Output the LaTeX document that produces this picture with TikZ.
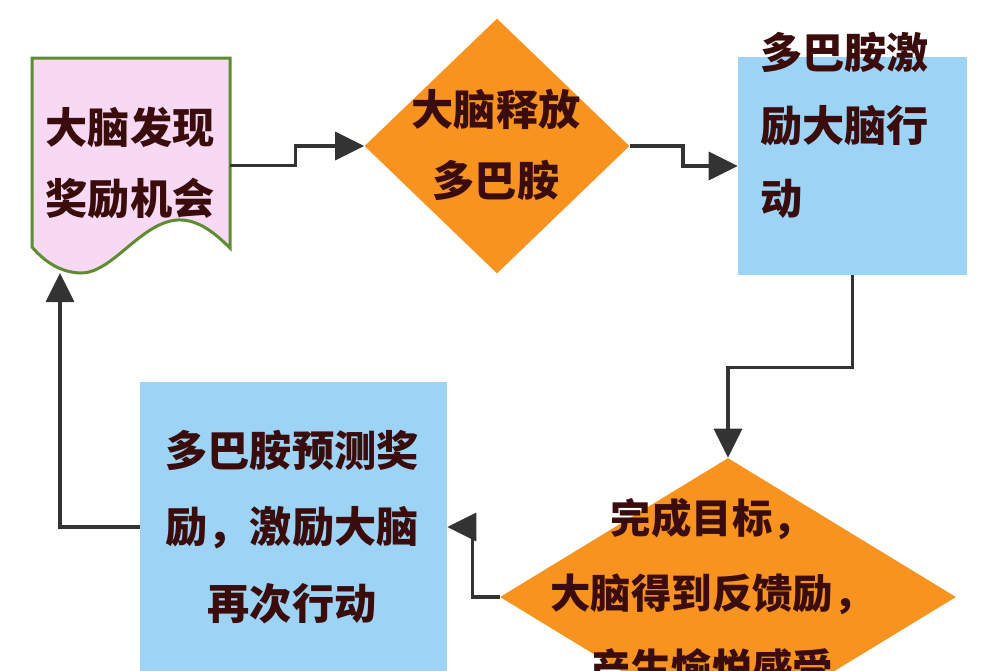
\documentclass[tikz,border=0pt]{standalone}
\usepackage{fontspec}
\newfontfamily\cjk{Noto Sans CJK SC}
\usetikzlibrary{shapes.geometric,arrows.meta}
\definecolor{flowtext}{HTML}{3A0C0C}
\definecolor{floworange}{HTML}{F7931E}
\definecolor{flowblue}{HTML}{9DD3F4}
\definecolor{flowpink}{HTML}{F8D9F3}
\definecolor{flowgreen}{HTML}{5E8C31}
\definecolor{flowline}{HTML}{333333}
\begin{document}
\begin{tikzpicture}[x=0.2mm,y=-0.2mm,
    lbl/.style={font=\cjk\bfseries\fontsize{24}{40}\selectfont,text=flowtext,inner sep=0pt},
    decide/.style={diamond,fill=floworange,inner sep=0pt},
    actbox/.style={rectangle,fill=flowblue,inner sep=0pt},
    arr/.style={draw=flowline,line width=0.7mm,-{Triangle[length=5.8mm,width=5.6mm]}}]
    \clip (0,0) rectangle (1000,670);
    \fill[white] (0,0) rectangle (1000,670);
    \draw[fill=flowpink,draw=flowgreen,line width=0.6mm] (32,58) -- (230,58) -- (230,248) .. controls (212,230) and (196,219) .. (177,220) .. controls (140,223) and (112,274) .. (80,273) .. controls (60,272) and (45,262) .. (32,247) -- cycle;
    \node[minimum width=39.6mm,minimum height=43mm,inner sep=0pt] (doc) at (131,165.5) {};
    \coordinate (docfoot) at (60,273);
    \node[lbl,align=center] (doctext) at (130,163) {大脑发现\\奖励机会};
    \node[decide,minimum width=53mm,minimum height=51mm] (d1) at (497,146) {};
    \node[lbl,align=center] (d1text) at (496,145) {大脑释放\\多巴胺};
    \node[actbox,minimum width=45.8mm,minimum height=43.6mm] (b1) at (852.5,166) {};
    \node[lbl,align=left,anchor=north west,font=\cjk\bfseries\fontsize{24}{41.5}\selectfont] (b1text) at (760,32) {多巴胺激\\励大脑行\\动};
    \node[decide,minimum width=91.2mm,minimum height=55.6mm] (d2) at (728,597) {};
    \node[lbl,align=center,font=\cjk\bfseries\fontsize{23}{42.7}\selectfont] (d2text) at (712,593) {完成目标，\\大脑得到反馈励，\\产生愉悦感受};
    \node[actbox,minimum width=61.4mm,minimum height=58mm] (b2) at (293.5,527) {};
    \node[lbl,align=center,font=\cjk\bfseries\fontsize{24}{43.7}\selectfont] (b2text) at (292,527) {多巴胺预测奖\\励，激励大脑\\再次行动};
    \draw[arr] (doc.east) -- ++(65,0) |- (d1.west);
    \draw[arr] (d1.east) -- ++(53,0) |- (b1.west);
    \draw[arr] (b1.south) -- ++(0,92) -| (d2.north);
    \draw[arr] (d2.west) -- ++(-27,0) |- (b2.east);
    \draw[arr] (b2.west) -| (docfoot);
\end{tikzpicture}
\end{document}
